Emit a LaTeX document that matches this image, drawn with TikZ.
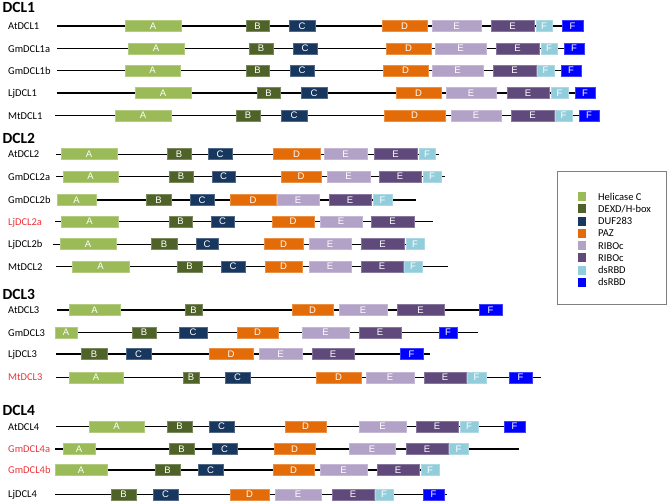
\documentclass[tikz,border=0pt]{standalone}
\usepackage{fontspec}
\setmainfont{Carlito}
\newfontfamily\boxfont{Liberation Sans}
\definecolor{cHel}{HTML}{9BBB59}
\definecolor{cDex}{HTML}{4F6228}
\definecolor{cDuf}{HTML}{17375E}
\definecolor{cPaz}{HTML}{E36C09}
\definecolor{cRibL}{HTML}{B3A2C7}
\definecolor{cRibD}{HTML}{604A7B}
\definecolor{cDsL}{HTML}{92CDDC}
\definecolor{cDsB}{HTML}{0000FF}
\definecolor{cRed}{HTML}{E8373C}
\definecolor{cFrame}{HTML}{7F7F7F}
\tikzset{
  dbox/.style={rectangle,inner sep=0pt,minimum height=11pt,line width=0.6pt,
    text=white,font=\boxfont\fontsize{9.5}{9.5}\selectfont},
  dHel/.style={fill=cHel,draw=cHel!75!white},
  dDex/.style={fill=cDex,draw=cDex!75!white},
  dDuf/.style={fill=cDuf,draw=cDuf!75!white},
  dPaz/.style={fill=cPaz,draw=cPaz!75!white},
  dRibL/.style={fill=cRibL,draw=cRibL!75!white},
  dRibD/.style={fill=cRibD,draw=cRibD!75!white},
  dDsL/.style={fill=cDsL,draw=cDsL!75!white},
  dDsB/.style={fill=cDsB,draw=cDsB!75!white},
  bb/.style={line width=1.2pt,black},
  lab/.style={anchor=base west,inner sep=0pt,font=\fontsize{10.5}{12}\selectfont},
  ttl/.style={anchor=base west,inner sep=0pt,font=\bfseries\fontsize{15.5}{17}\selectfont},
  legsq/.style={rectangle,inner sep=0pt,minimum width=8pt,minimum height=9pt},
  legtx/.style={anchor=base west,inner sep=0pt,font=\fontsize{10.5}{12}\selectfont}
}
\newcommand{\dclrow}[7]{%
  \node[lab,text=#4] (#1-l) at (8,{#2+3.6}) {#3};
  \coordinate (#1-s) at (#5,#2);
  \coordinate (#1-e) at (#6,#2);
  \draw[bb] (#1-s) -- (#1-e);
  \foreach \s/\a/\b/\t [count=\i] in {#7} {
    \node[dbox,style=\s,minimum width={(\b-\a)*1pt}] (#1-\i) at ({(\a+\b)/2},#2) {\t};
  }
}
\begin{document}
\begin{tikzpicture}[x=1pt,y=-1pt]
\useasboundingbox[fill=white] (0,0) rectangle (669,502);
% DCL1
\node[ttl] (t1) at (2.5,12.3) {DCL1};
\dclrow{r11}{26}{AtDCL1}{black}{57}{584}{dHel/125/181/A, dDex/246/269/B, dDuf/289/315/C, dPaz/382/427/D, dRibL/432/481/E, dRibD/491/534/E, dDsL/536/552/F, dDsB/562/583/F}
\dclrow{r12}{48.5}{GmDCL1a}{black}{57}{585}{dHel/128/184/A, dDex/249/273/B, dDuf/293/317/C, dPaz/386/431/D, dRibL/435/486/E, dRibD/496/539/E, dDsL/541/557/F, dDsB/564/584/F}
\dclrow{r13}{70.7}{GmDCL1b}{black}{57}{582}{dHel/125/180/A, dDex/246/269/B, dDuf/290/314/C, dPaz/383/428/D, dRibL/432/483/E, dRibD/493/536/E, dDsL/537/554/F, dDsB/561/581/F}
\dclrow{r14}{93}{LjDCL1}{black}{57}{595}{dHel/135/191/A, dDex/257/280/B, dDuf/301/327/C, dPaz/396/441/D, dRibL/446/496/E, dRibD/507/549/E, dDsL/551/568/F, dDsB/575/595/F}
\dclrow{r15}{115.7}{MtDCL1}{black}{55}{599}{dHel/115/171/A, dDex/236/260/B, dDuf/281/307/C, dPaz/384/445/D, dRibL/451/501/E, dRibD/511/554/E, dDsL/555/572/F, dDsB/579/599/F}
% DCL2
\node[ttl] (t2) at (2.5,143.3) {DCL2};
\dclrow{r21}{154.3}{AtDCL2}{black}{56}{439}{dHel/61/117/A, dDex/167/191/B, dDuf/208/232/C, dPaz/273/320/D, dRibL/324/367/E, dRibD/374/417/E, dDsL/419/435/F}
\dclrow{r22}{176.7}{GmDCL2a}{black}{56}{445}{dHel/63/118/A, dDex/169/193/B, dDuf/212/235/C, dPaz/281/321/D, dRibL/327/370/E, dRibD/379/421/E, dDsL/423/441/F}
\dclrow{r23}{200}{GmDCL2b}{black}{57}{416}{dHel/57/96/A, dDex/146/171/B, dDuf/190/214/C, dPaz/230/276/D, dRibL/277/319/E, dRibD/329/371/E, dDsL/373/392/F}
\dclrow{r24}{221.7}{LjDCL2a}{cRed}{55}{433}{dHel/61/118/A, dDex/169/192/B, dDuf/211/234/C, dPaz/272/314/D, dRibL/320/362/E, dRibD/371/414/E}
\dclrow{r25}{244.3}{LjDCL2b}{black}{53}{425}{dHel/60/116/A, dDex/151/177/B, dDuf/196/218/C, dPaz/264/303/D, dRibL/309/351/E, dRibD/361/404/E, dDsL/406/424/F}
\dclrow{r26}{266.7}{MtDCL2}{black}{56}{448}{dHel/72/129/A, dDex/177/202/B, dDuf/221/245/C, dPaz/265/302/D, dRibL/309/351/E, dRibD/361/403/E, dDsL/404/422/F}
% DCL3
\node[ttl] (t3) at (2.5,300) {DCL3};
\dclrow{r31}{310}{AtDCL3}{black}{57}{502}{dHel/69/120/A, dDex/185/202/B, dPaz/292/333/D, dRibL/339/387/E, dRibD/397/444/E, dDsB/479/502/F}
\dclrow{r32}{332.7}{GmDCL3}{black}{55}{478}{dHel/55/77/A, dDex/132/156/B, dDuf/179/207/C, dPaz/237/278/D, dRibL/302/349/E, dRibD/359/401/E, dDsB/439/457/F}
\dclrow{r33}{354}{LjDCL3}{black}{56}{430}{dDex/81/107/B, dDuf/126/151/C, dPaz/209/253/D, dRibL/259/302/E, dRibD/312/354/E, dDsB/400/423/F}
\dclrow{r34}{377.3}{MtDCL3}{cRed}{56}{541}{dHel/69/123/A, dDex/183/199/B, dDuf/225/250/C, dPaz/316/361/D, dRibL/366/414/E, dRibD/424/466/E, dDsL/467/486/F, dDsB/509/532/F}
% DCL4
\node[ttl] (t4) at (2.5,415) {DCL4};
\dclrow{r41}{426.7}{AtDCL4}{black}{56}{526}{dHel/89/144/A, dDex/167/192/B, dDuf/209/234/C, dPaz/285/326/D, dRibL/359/406/E, dRibD/416/458/E, dDsL/460/478/F, dDsB/504/525/F}
\dclrow{r42}{449}{GmDCL4a}{cRed}{55}{519}{dHel/63/95/A, dDex/169/194/B, dDuf/212/237/C, dPaz/274/315/D, dRibL/349/395/E, dRibD/406/448/E, dDsL/449/468/F}
\dclrow{r43}{470}{GmDCL4b}{cRed}{55}{440}{dHel/55/107/A, dDex/155/180/B, dDuf/198/223/C, dPaz/273/314/D, dRibL/320/367/E, dRibD/377/419/E, dDsL/421/439/F}
\dclrow{r44}{494.3}{LjDCL4}{black}{55}{447}{dDex/111/136/B, dDuf/153/178/C, dPaz/230/269/D, dRibL/275/321/E, dRibD/332/374/E, dDsL/375/393/F, dDsB/423/444/F}
% Legend
\node[draw=cFrame,line width=0.8pt,rectangle,inner sep=0pt,minimum width=109pt,minimum height=133pt,anchor=north west] (leg) at (557,171) {};
\foreach \c/\t [count=\i] in {cHel/{Helicase C}, cDex/{DEXD/H-box}, cDuf/{DUF283}, cPaz/{PAZ}, cRibL/{RIBOc}, cRibD/{RIBOc}, cDsL/{dsRBD}, cDsB/{dsRBD}} {
  \node[legsq,fill=\c] (ls\i) at (582,{196.7+(\i-1)*12.23}) {};
  \node[legtx] (lt\i) at (598,{196.7+(\i-1)*12.23+3.6}) {\t};
}
\end{tikzpicture}
\end{document}
